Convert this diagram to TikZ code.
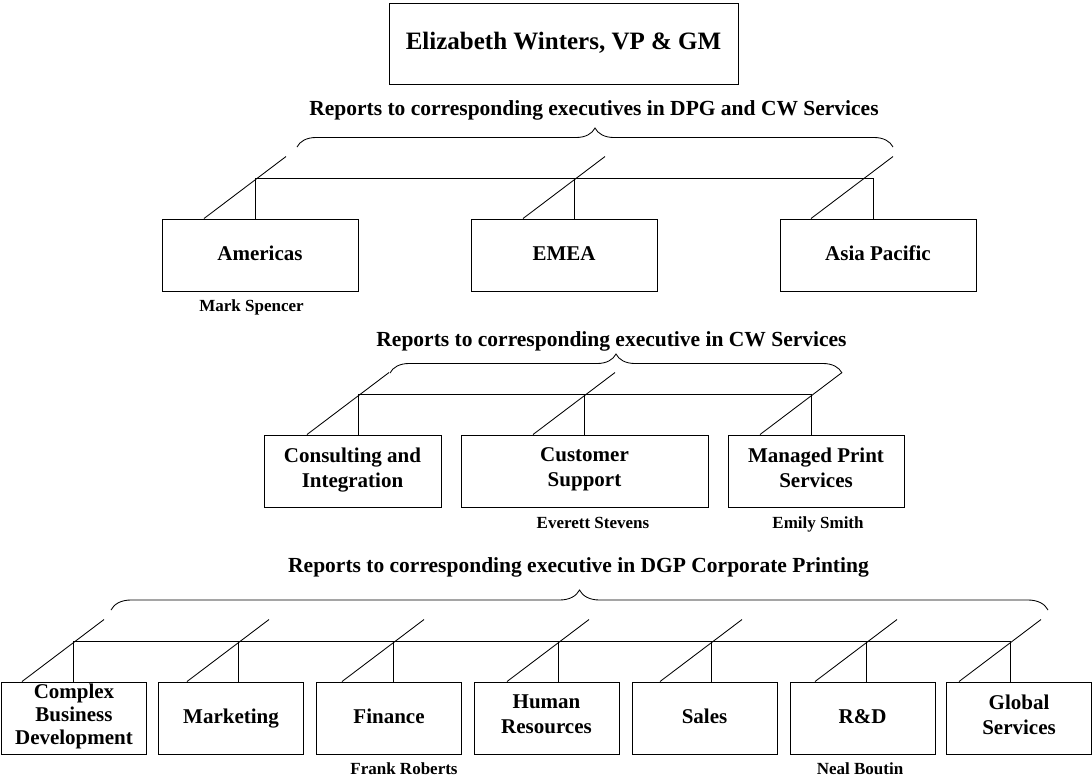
\documentclass[tikz,border=0pt]{standalone}
\usepackage{fontspec}
\setmainfont{Liberation Serif}
\usetikzlibrary{calc}
\usetikzlibrary{decorations.pathreplacing}

\begin{document}
\begin{tikzpicture}[x=1pt, y=-1pt,
        unit/.style={draw, line width=0.95pt, inner sep=0pt, align=center, minimum height=72,
            execute at begin node=\strut, execute at end node=\strut,
            font=\fontsize{21}{25}\selectfont\bfseries},
        heading/.style={anchor=base, font=\fontsize{21.5}{26}\selectfont\bfseries},
        person/.style={anchor=base, font=\fontsize{17}{20}\selectfont\bfseries},
        wire/.style={line width=0.85pt},
        curly/.style={line width=0.85pt, decorate, decoration={brace, amplitude=19pt}}]
    \useasboundingbox (0, 0) rectangle (1092, 782);

    \node[unit, minimum width=349, minimum height=81, font=\fontsize{25}{30}\selectfont\bfseries] (ewinters) at (563.5, 43.5) {Elizabeth Winters, VP \& GM};

    % regions
    \node[heading] (head1) at (594, 115) {Reports to corresponding executives in DPG and CW Services};
    \coordinate (b1l) at (297, 147);
    \coordinate (b1r) at (893, 147);
    \draw[curly] (b1l) -- (b1r);

    \node[unit, minimum width=196] (americas) at (260, 255) {Americas};
    \node[unit, minimum width=186] (emea) at (564, 255) {EMEA};
    \node[unit, minimum width=196] (asiapac) at (878, 255) {Asia Pacific};

    \coordinate (jamer) at (255, 178);
    \coordinate (jemea) at (574, 178);
    \coordinate (jasia) at (873, 178);
    \draw[wire] (jamer) -- (jasia);
    \draw[wire] (jamer) -- (jamer |- americas.north);
    \draw[wire] (jemea) -- (jemea |- emea.north);
    \draw[wire] (jasia) -- (jasia |- asiapac.north);
    \draw[wire] ($(jamer |- americas.north)+(-51, 0)$) -- ++(82, -62);
    \draw[wire] ($(jemea |- emea.north)+(-51, 0)$) -- ++(82, -62);
    \draw[wire] ($(jasia |- asiapac.north)+(-62, 0)$) -- ++(82, -62);

    \node[person] (mspencer) at (251.5, 311) {Mark Spencer};

    % cw services
    \node[heading] (head2) at (611.5, 346) {Reports to corresponding executive in CW Services};
    \coordinate (b2l) at (390, 373);
    \coordinate (b2r) at (842, 373);
    \draw[curly] (b2l) -- (b2r);

    \node[unit, minimum width=177] (consult) at (352.5, 471) {Consulting and\\Integration};
    \node[unit, minimum width=247] (custsup) at (584.5, 471) {Customer\\Support};
    \node[unit, minimum width=176] (mps) at (816, 471) {Managed Print\\Services};

    \coordinate (jcons) at (358, 394);
    \coordinate (jcust) at (584, 394);
    \coordinate (jmps) at (811, 394);
    \draw[wire] (jcons) -- (jmps);
    \draw[wire] (jcons) -- (jcons |- consult.north);
    \draw[wire] (jcust) -- (jcust |- custsup.north);
    \draw[wire] (jmps) -- (jmps |- mps.north);
    \draw[wire] ($(jcons |- consult.north)+(-51, 0)$) -- ++(82, -62);
    \draw[wire] ($(jcust |- custsup.north)+(-51, 0)$) -- ++(82, -62);
    \draw[wire] ($(jmps |- mps.north)+(-51, 0)$) -- ++(82, -62);

    \node[person] (estevens) at (593, 528) {Everett Stevens};
    \node[person] (esmith) at (818, 528) {Emily Smith};

    % corporate printing
    \node[heading] (head3) at (578.5, 572) {Reports to corresponding executive in DGP Corporate Printing};
    \coordinate (b3l) at (111, 610);
    \coordinate (b3r) at (1048, 610);
    \draw[curly, decoration={amplitude=20pt}] (b3l) -- (b3r);

    \node[unit, minimum width=145, font=\fontsize{21}{23}\selectfont\bfseries] (complex) at (74, 718) {Complex\\Business\\Development};
    \node[unit, minimum width=145] (marketing) at (231, 718) {Marketing};
    \node[unit, minimum width=145] (finance) at (389, 718) {Finance};
    \node[unit, minimum width=145] (hr) at (546.5, 718) {Human\\Resources};
    \node[unit, minimum width=145] (sales) at (704.5, 718) {Sales};
    \node[unit, minimum width=145] (rnd) at (862.5, 718) {R\&D};
    \node[unit, minimum width=145] (global) at (1019, 718) {Global\\Services};

    \coordinate (jcomp) at (73, 641);
    \coordinate (jmark) at (238, 641);
    \coordinate (jfin) at (393, 641);
    \coordinate (jhr) at (558, 641);
    \coordinate (jsales) at (711, 641);
    \coordinate (jrnd) at (866, 641);
    \coordinate (jglob) at (1010, 641);
    \draw[wire] (jcomp) -- (jglob);
    \draw[wire] (jcomp) -- (jcomp |- complex.north);
    \draw[wire] (jmark) -- (jmark |- marketing.north);
    \draw[wire] (jfin) -- (jfin |- finance.north);
    \draw[wire] (jhr) -- (jhr |- hr.north);
    \draw[wire] (jsales) -- (jsales |- sales.north);
    \draw[wire] (jrnd) -- (jrnd |- rnd.north);
    \draw[wire] (jglob) -- (jglob |- global.north);
    \draw[wire] ($(jcomp |- complex.north)+(-51, 0)$) -- ++(82, -62);
    \draw[wire] ($(jmark |- marketing.north)+(-51, 0)$) -- ++(82, -62);
    \draw[wire] ($(jfin |- finance.north)+(-51, 0)$) -- ++(82, -62);
    \draw[wire] ($(jhr |- hr.north)+(-51, 0)$) -- ++(82, -62);
    \draw[wire] ($(jsales |- sales.north)+(-51, 0)$) -- ++(82, -62);
    \draw[wire] ($(jrnd |- rnd.north)+(-51, 0)$) -- ++(82, -62);
    \draw[wire] ($(jglob |- global.north)+(-51, 0)$) -- ++(82, -62);

    \node[person] (froberts) at (404, 774) {Frank Roberts};
    \node[person] (nboutin) at (860, 774) {Neal Boutin};
\end{tikzpicture}
\end{document}
